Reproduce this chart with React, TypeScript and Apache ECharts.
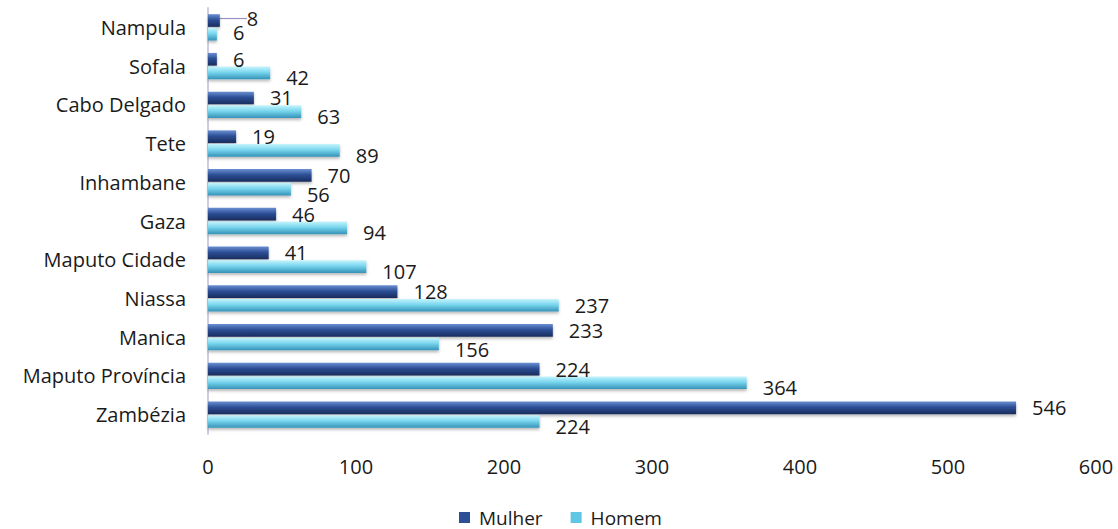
import React, { useEffect, useRef } from "react";
import * as echarts from "echarts";

// Provinces, listed top to bottom
const provinces = [
  "Nampula",
  "Sofala",
  "Cabo Delgado",
  "Tete",
  "Inhambane",
  "Gaza",
  "Maputo Cidade",
  "Niassa",
  "Manica",
  "Maputo Província",
  "Zambézia",
];

const mulher = [8, 6, 31, 19, 70, 46, 41, 128, 233, 224, 546];
const homem = [6, 42, 63, 89, 56, 94, 107, 237, 156, 364, 224];

const xMin = 0;
const xMax = 600;
const xStep = 100;

const FONT = "'Open Sans', Lato, sans-serif";
const TEXT = "#1a1a1a";

const grad = (a: string, b: string, c: string) =>
  new echarts.graphic.LinearGradient(0, 0, 0, 1, [
    { offset: 0, color: a },
    { offset: 0.45, color: b },
    { offset: 1, color: c },
  ]);

export default function App() {
  const ref = useRef<HTMLDivElement>(null);

  useEffect(() => {
    if (!ref.current) return;
    const chart = echarts.init(ref.current, undefined, { renderer: "svg" });

    const labelCommon = {
      show: true,
      position: "right" as const,
      distance: 16,
      offset: [0, 5],
      fontFamily: FONT,
      fontSize: 20,
      lineHeight: 17,
      color: TEXT,
    };

    // Labels that sit close together get small nudges; the women's Nampula
    // label is joined to its bar by a leader line.
    const mulherData = mulher.map((v, i) => {
      if (i === 0) return { value: v, labelLine: { show: true } };
      if (provinces[i] === "Manica") return { value: v, label: { offset: [0, 10] } };
      return v;
    });
    const homemData = homem.map((v, i) => {
      if (i === 0) return { value: v, label: { offset: [0, -2] } };
      if (provinces[i] === "Niassa") return { value: v, label: { offset: [0, 0] } };
      return v;
    });

    chart.setOption({
      animation: false,
      backgroundColor: "#ffffff",
      textStyle: { fontFamily: FONT },
      legend: {
        top: 508,
        left: 459,
        padding: 0,
        itemWidth: 11,
        itemHeight: 11,
        itemGap: 28,
        icon: "rect",
        textStyle: {
          fontFamily: FONT,
          fontSize: 19,
          lineHeight: 19,
          color: TEXT,
          padding: [0, 0, 0, 4],
        },
        data: [
          { name: "Mulher", itemStyle: { color: "#2d4f96" } },
          { name: "Homem", itemStyle: { color: "#5fc6e3" } },
        ],
      },
      grid: { left: 208, top: 8, width: 888, height: 426 },
      xAxis: {
        type: "value",
        min: xMin,
        max: xMax,
        interval: xStep,
        axisLine: { show: false },
        axisTick: { show: false },
        splitLine: { show: false },
        axisLabel: {
          margin: 22,
          fontFamily: FONT,
          fontSize: 20,
          lineHeight: 20,
          color: TEXT,
        },
      },
      yAxis: {
        type: "category",
        inverse: true,
        data: provinces,
        axisLine: { show: true, lineStyle: { color: "#cfcbe0", width: 2 } },
        axisTick: { show: false },
        axisLabel: {
          margin: 22,
          fontFamily: FONT,
          fontSize: 20,
          color: TEXT,
        },
      },
      series: [
        {
          name: "Mulher",
          type: "bar",
          data: mulherData,
          barGap: "8%",
          barCategoryGap: "32%",
          itemStyle: {
            color: grad("#6a8fd2", "#2d4f96", "#182c5c"),
            shadowColor: "rgba(0,0,0,0.28)",
            shadowBlur: 3,
            shadowOffsetY: 2,
          },
          label: labelCommon,
          labelLine: { show: false, lineStyle: { color: "#9a90c8", width: 1.2 } },
          labelLayout: (p: any) =>
            p.dataIndex === 0 ? { dx: 11, dy: -2 } : {},
        },
        {
          name: "Homem",
          type: "bar",
          data: homemData,
          barGap: "8%",
          barCategoryGap: "32%",
          itemStyle: {
            color: grad("#c6f4fc", "#79d6ee", "#3592b8"),
            shadowColor: "rgba(0,0,0,0.28)",
            shadowBlur: 3,
            shadowOffsetY: 2,
          },
          label: labelCommon,
        },
      ],
    });

    return () => chart.dispose();
  }, []);

  return (
    <div
      ref={ref}
      style={{ position: "fixed", left: 0, top: 0, width: 1118, height: 529 }}
    />
  );
}
